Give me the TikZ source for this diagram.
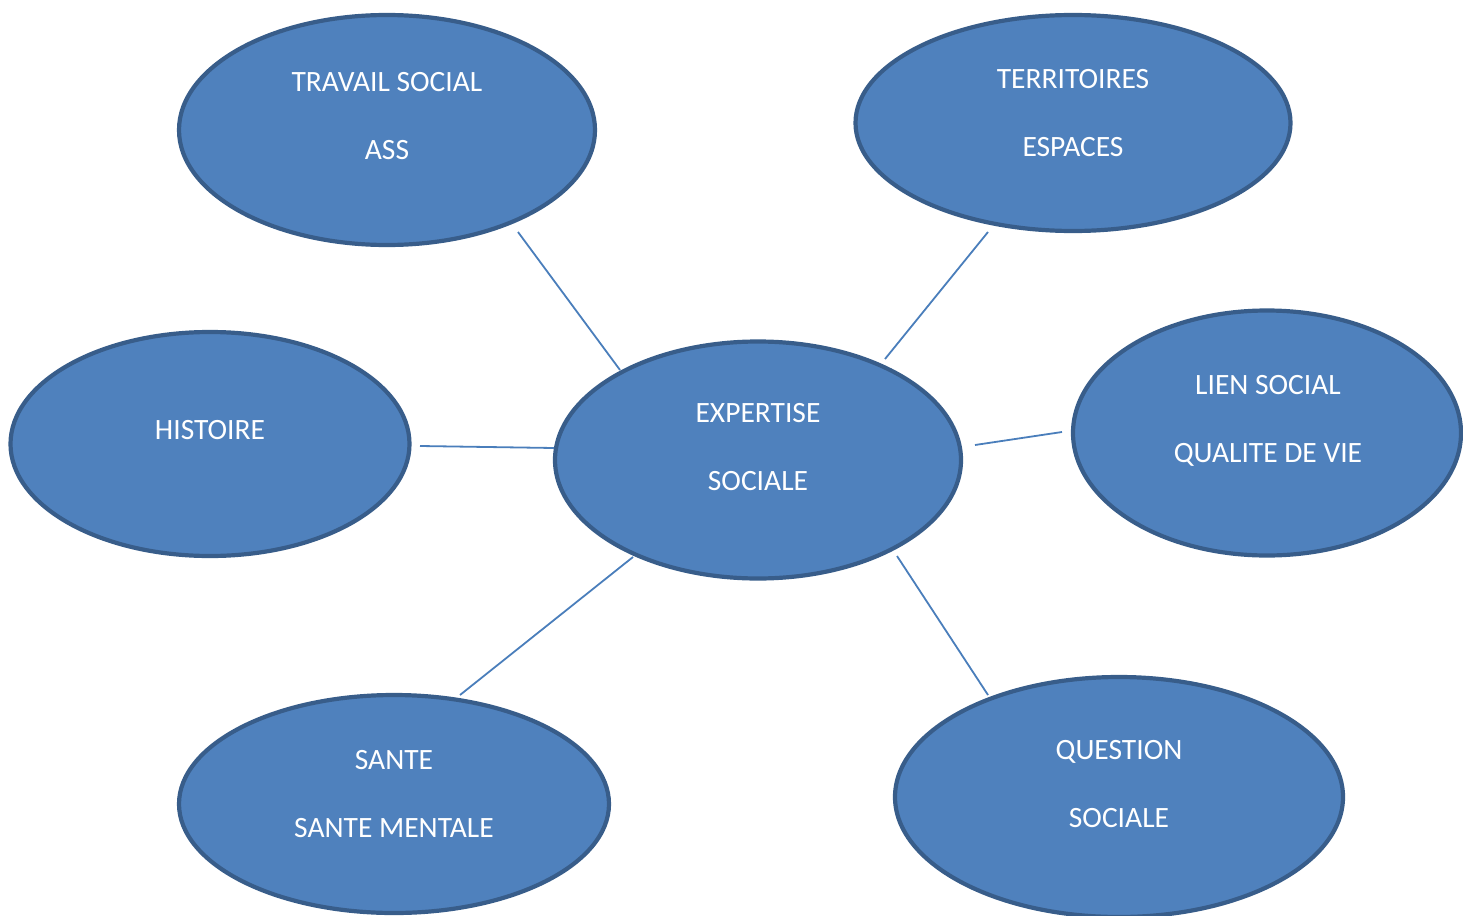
\documentclass[tikz,border=0pt]{standalone}
\usepackage{fontspec}
\setmainfont{Carlito}
\usetikzlibrary{shapes.geometric}
\definecolor{efill}{HTML}{4F81BD}
\definecolor{edraw}{HTML}{385D8A}
\definecolor{lcol}{HTML}{4A7EBB}
\begin{document}
\begin{tikzpicture}[x=1pt,y=-1pt,
  bubble/.style={ellipse,fill=efill,draw=edraw,line width=4.2pt,inner sep=0pt},
  lbl/.style={text=white,font=\fontsize{29.5}{68}\selectfont,align=center,inner sep=0pt},
  link/.style={draw=lcol,line width=1.8pt}]
\useasboundingbox (0,0) rectangle (1463,915);
\node[bubble,minimum width=416pt,minimum height=230pt] (trav) at (387,130) {};
\node[bubble,minimum width=435pt,minimum height=216pt] (terr) at (1073,123) {};
\node[bubble,minimum width=399pt,minimum height=224pt] (hist) at (210,444) {};
\node[bubble,minimum width=406pt,minimum height=237pt] (expe) at (758,460) {};
\node[bubble,minimum width=388pt,minimum height=245pt] (lien) at (1267,433) {};
\node[bubble,minimum width=430pt,minimum height=218pt] (sant) at (394,804) {};
\node[bubble,minimum width=448pt,minimum height=240pt] (ques) at (1119,797) {};
\node[lbl] (ttrav) at (387,116) {TRAVAIL SOCIAL\\ASS};
\node[lbl] (tterr) at (1073,113) {TERRITOIRES\\ESPACES};
\node[lbl] (thist) at (210,430) {HISTOIRE};
\node[lbl] (texpe) at (758,447) {EXPERTISE\\SOCIALE};
\node[lbl] (tlien) at (1268,421) {LIEN SOCIAL\\QUALITE DE VIE};
\node[lbl] (tsant) at (394,794) {SANTE\\SANTE MENTALE};
\node[lbl] (tques) at (1119,784) {QUESTION\\SOCIALE};
\coordinate (a1) at (518,232); \coordinate (a2) at (620,370);
\coordinate (b1) at (988,232); \coordinate (b2) at (885,359);
\coordinate (c1) at (420,446); \coordinate (c2) at (554,448);
\coordinate (d1) at (975,445); \coordinate (d2) at (1062,432);
\coordinate (e1) at (633,557); \coordinate (e2) at (460,695);
\coordinate (f1) at (897,556); \coordinate (f2) at (988,695);
\draw[link] (a1) -- (a2);
\draw[link] (b1) -- (b2);
\draw[link] (c1) -- (c2);
\draw[link] (d1) -- (d2);
\draw[link] (e1) -- (e2);
\draw[link] (f1) -- (f2);
\end{tikzpicture}
\end{document}
